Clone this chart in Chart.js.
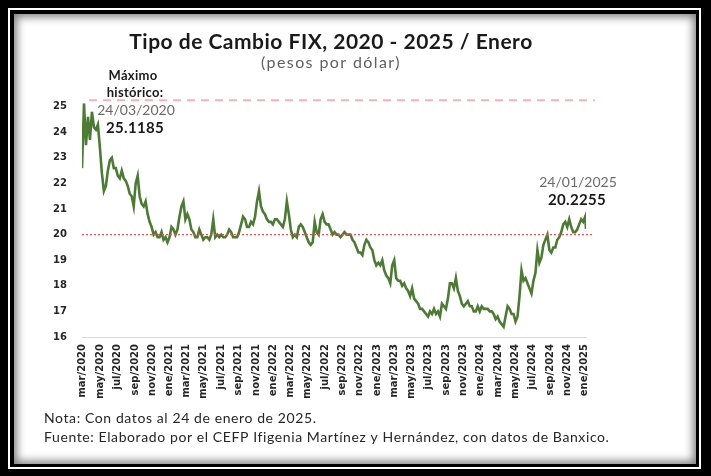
<!DOCTYPE html>
<html>
<head>
<meta charset="utf-8">
<script src="https://cdn.jsdelivr.net/npm/chart.js@4.4.1/dist/chart.umd.min.js"></script>
<style>
  html, body { margin: 0; padding: 0; background: #000; }
  body { width: 711px; height: 476px; position: relative; overflow: hidden; }
  #marco1 { position: absolute; left: 8px; top: 8px; width: 693px; height: 461px; box-sizing: border-box; border: 2px solid #fff; background: #000; }
  #marco2 { position: absolute; left: 14px; top: 14px; width: 682px; height: 450px; background: #fff; box-shadow: inset 0 0 8px 3px rgba(0,0,0,0.5); }
  #grafica { position: absolute; left: 0; top: 0; }
</style>
</head>
<body>
<div id="marco1"></div>
<div id="marco2"></div>
<canvas id="grafica" width="711" height="476"></canvas>
<script>
// tipo de cambio FIX, un dato por semana (martes) desde el 17/03/2020
const inicio = "2020-03-17";
const tc2020 = [22.6, 25.12, 23.5, 24.6, 23.7, 24.8, 24.2, 24.1, 24.3, 23.4, 22.4, 21.7, 21.9, 22.5, 22.9, 23.0,
  22.6, 22.6, 22.3, 22.2, 22.5, 22.2, 22.1, 21.9, 21.6, 21.5, 21.1, 22.0, 22.3, 21.5, 21.2, 21.1, 21.3,
  20.8, 20.5, 20.3, 20.0, 20.1, 19.9, 19.9, 20.1, 19.8];
const tc2021 = [19.9, 19.7, 19.9, 20.3, 20.2, 20.0, 20.2, 20.7, 21.1, 21.3, 20.6, 20.8, 20.6, 20.2, 20.1, 19.9,
  19.9, 20.2, 20.0, 19.8, 19.9, 19.9, 19.8, 20.0, 20.6, 19.9, 20.0, 19.9, 20.0, 19.9, 19.9, 20.0, 20.2, 20.1,
  19.9, 19.9, 19.9, 20.1, 20.4, 20.7, 20.6, 20.3, 20.3, 20.5, 20.4, 20.7, 21.3, 21.7, 21.1, 20.9, 20.8, 20.6];
const tc2022 = [20.5, 20.5, 20.4, 20.6, 20.6, 20.5, 20.4, 20.3, 20.6, 21.3, 20.8, 20.2, 19.9, 20.0, 19.9, 20.3,
  20.4, 20.3, 20.1, 19.9, 19.7, 19.6, 19.7, 20.5, 20.1, 20.0, 20.6, 20.8, 20.5, 20.4, 20.4, 20.2, 20.0, 20.1,
  20.0, 20.0, 19.9, 20.0, 20.1, 20.0, 20.0, 20.0, 19.8, 19.7, 19.5, 19.3, 19.3, 19.2, 19.6, 19.8, 19.7, 19.5];
const tc2023 = [19.4, 19.0, 18.8, 18.9, 18.8, 19.0, 18.6, 18.4, 18.3, 18.1, 18.8, 19.0, 18.3, 18.2, 18.2, 18.0,
  18.1, 17.9, 17.8, 17.6, 17.9, 17.5, 17.4, 17.3, 17.1, 17.1, 17.0, 16.9, 16.8, 17.0, 16.9, 17.1, 16.9, 17.0,
  16.8, 17.3, 17.2, 17.1, 17.5, 18.1, 18.1, 17.9, 18.3, 17.8, 17.6, 17.3, 17.2, 17.3, 17.4, 17.2, 17.2, 17.0];
const tc2024 = [17.0, 17.2, 17.0, 17.2, 17.1, 17.1, 17.1, 17.0, 17.0, 16.9, 16.7, 16.8, 16.6, 16.5, 16.4, 16.8,
  17.2, 17.1, 16.9, 16.9, 16.6, 16.8, 17.6, 18.6, 18.2, 18.3, 18.1, 17.9, 17.7, 18.2, 18.5, 19.4, 18.9, 19.1,
  19.6, 19.8, 20.0, 19.4, 19.3, 19.5, 19.5, 19.8, 19.9, 20.1, 20.4, 20.5, 20.3, 20.6, 20.3, 20.1, 20.1, 20.2, 20.4];
const tc2025 = [20.6, 20.5, 20.7];
const ultimoDato = { fecha: "2025-01-24", valor: 20.2255 };

const maximoHistorico = { fecha: "24/03/2020", valor: "25.1185" };
const nivelMaximo = 25.25;
const nivelReferencia = 20;

// etiquetas del eje x (cada dos meses desde mar/2020)
const etiquetasX = ["mar/2020", "may/2020", "jul/2020", "sep/2020", "nov/2020",
  "ene/2021", "mar/2021", "may/2021", "jul/2021", "sep/2021", "nov/2021",
  "ene/2022", "mar/2022", "may/2022", "jul/2022", "sep/2022", "nov/2022",
  "ene/2023", "mar/2023", "may/2023", "jul/2023", "sep/2023", "nov/2023",
  "ene/2024", "mar/2024", "may/2024", "jul/2024", "sep/2024", "nov/2024", "ene/2025"];
const ticksY = [16, 17, 18, 19, 20, 21, 22, 23, 24, 25];

const DIA = 86400000;
const base = Date.UTC(2020, 2, 20);
function diasDesdeBase(fecha) {
  return Math.round((Date.parse(fecha + "T00:00:00Z") - base) / DIA);
}

const semanal = [...tc2020, ...tc2021, ...tc2022, ...tc2023, ...tc2024, ...tc2025];
const x0 = diasDesdeBase(inicio);
const puntos = semanal.map((v, i) => ({ x: x0 + 7 * i, y: v }));
puntos.push({ x: diasDesdeBase(ultimoDato.fecha), y: ultimoDato.valor });

const posTicksX = etiquetasX.map((e, k) => Math.round((Date.UTC(2020, 2 + 2 * k, 20) - base) / DIA));

const fuente = "'Lato', 'DejaVu Sans', sans-serif";
const fuenteEjes = "'DejaVu Sans', sans-serif";

function texto(ctx, t, x, y, font, color, espacio) {
  ctx.font = font;
  ctx.fillStyle = color;
  ctx.letterSpacing = (espacio || 0) + "px";
  ctx.fillText(t, x, y);
}

const textos = {
  id: "textos",
  afterDraw(chart) {
    const ctx = chart.ctx;
    const { y } = chart.scales;
    const area = chart.chartArea;
    ctx.save();
    // linea del maximo historico
    ctx.strokeStyle = "#eeb4bc";
    ctx.lineWidth = 2;
    ctx.setLineDash([8, 6]);
    ctx.beginPath();
    ctx.moveTo(area.left + 7, y.getPixelForValue(nivelMaximo));
    ctx.lineTo(area.right + 9, y.getPixelForValue(nivelMaximo));
    ctx.stroke();
    // linea de 20 pesos
    ctx.strokeStyle = "#e0575a";
    ctx.lineWidth = 1.3;
    ctx.setLineDash([2, 2]);
    ctx.beginPath();
    ctx.moveTo(area.left, y.getPixelForValue(nivelReferencia));
    ctx.lineTo(area.right + 6, y.getPixelForValue(nivelReferencia));
    ctx.stroke();
    ctx.setLineDash([]);

    ctx.textAlign = "center";
    ctx.textBaseline = "middle";
    texto(ctx, "Tipo de Cambio FIX, 2020 - 2025 / Enero", 331, 42, "bold 21px " + fuente, "#1a1a1a", 0.5);
    texto(ctx, "(pesos por dólar)", 331, 63, "16px " + fuente, "#5f5f5f", 1.4);

    texto(ctx, "Máximo", 133, 76, "bold 13px " + fuente, "#1a1a1a", 0.3);
    texto(ctx, "histórico:", 135, 93, "bold 13px " + fuente, "#1a1a1a", 0.3);
    texto(ctx, maximoHistorico.fecha, 136, 110, "14px " + fuente, "#6b6b6b", 0);
    texto(ctx, maximoHistorico.valor, 135, 128, "bold 15px " + fuente, "#1a1a1a", 0.3);

    texto(ctx, "24/01/2025", 578, 182, "14px " + fuente, "#6b6b6b", 0);
    texto(ctx, ultimoDato.valor.toFixed(4), 577, 200, "bold 15px " + fuente, "#1a1a1a", 0.3);

    ctx.textAlign = "left";
    texto(ctx, "Nota: Con datos al 24 de enero de 2025.", 44, 418, "14px " + fuente, "#262626", 0.6);
    texto(ctx, "Fuente: Elaborado por el CEFP Ifigenia Martínez y Hernández, con datos de Banxico.", 44, 437, "14px " + fuente, "#262626", 0.6);
    ctx.restore();
  }
};

new Chart(document.getElementById("grafica"), {
  type: "line",
  data: {
    datasets: [{
      data: puntos,
      borderColor: "#4d7a35",
      borderWidth: 2.6,
      pointRadius: 0,
      tension: 0
    }, {
      data: puntos,
      borderColor: "#8dbd6a",
      borderWidth: 1,
      pointRadius: 0,
      tension: 0
    }]
  },
  options: {
    responsive: false,
    animation: false,
    layout: { padding: { left: 40, right: 125, top: 99, bottom: 69 } },
    plugins: { legend: { display: false }, tooltip: { enabled: false }, title: { display: false } },
    scales: {
      x: {
        type: "linear",
        min: x0,
        max: diasDesdeBase(ultimoDato.fecha),
        afterFit(scale) { scale.height = 70; },
        afterBuildTicks(scale) { scale.ticks = posTicksX.map(v => ({ value: v })); },
        grid: { display: false, drawTicks: false },
        border: { display: true, color: "#d9d9d9", width: 1 },
        ticks: {
          autoSkip: false,
          minRotation: 90,
          maxRotation: 90,
          padding: 7,
          color: "#262626",
          font: { family: fuenteEjes, size: 10, weight: "bold" },
          callback: (v, i) => etiquetasX[i]
        }
      },
      y: {
        min: 16,
        max: 25.3,
        afterFit(scale) { scale.width = 42; },
        afterBuildTicks(scale) { scale.ticks = ticksY.map(v => ({ value: v })); },
        grid: { display: false, drawTicks: false },
        border: { display: false },
        ticks: {
          padding: 15,
          color: "#262626",
          font: { family: fuenteEjes, size: 10, weight: "bold" }
        }
      }
    }
  },
  plugins: [textos]
});
</script>
</body>
</html>
